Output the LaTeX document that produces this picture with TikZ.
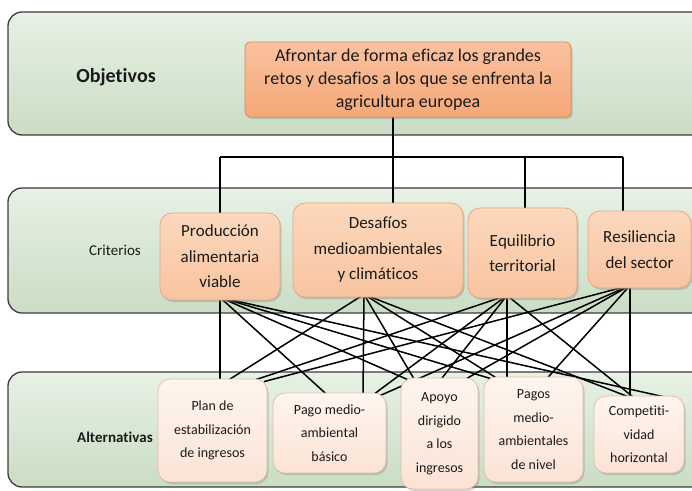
\documentclass[tikz,border=0pt]{standalone}
\usepackage{fontspec}
\setmainfont{Carlito}[RawFeature={-liga;-clig;-calt;-dlig;-kern}]
\usetikzlibrary{shadows}
\definecolor{bandA}{HTML}{E7F1E4}
\definecolor{bandB}{HTML}{CADDC5}
\definecolor{bandline}{HTML}{3C3C3C}
\definecolor{topA}{HTML}{FAC1A0}
\definecolor{topB}{HTML}{F5A877}
\definecolor{topline}{HTML}{D88A5A}
\definecolor{crA}{HTML}{FCD8BD}
\definecolor{crB}{HTML}{F8C4A0}
\definecolor{crline}{HTML}{E2A983}
\definecolor{alA}{HTML}{FEF5EF}
\definecolor{alB}{HTML}{FBE3D5}
\definecolor{alline}{HTML}{E3C0AA}
\definecolor{txt}{HTML}{1A1A1A}
\pgfdeclarelayer{bandlayer}
\pgfdeclarelayer{linelayer}
\pgfsetlayers{bandlayer,linelayer,main}
\begin{document}
\begin{tikzpicture}[x=1pt,y=-1pt,
  band/.style={draw=bandline, line width=1.3pt, rounded corners=14pt, top color=bandA, bottom color=bandB},
  boxbase/.style={rectangle, align=center, inner sep=0pt, text=txt,
    drop shadow={shadow xshift=1.5pt, shadow yshift=-2pt, opacity=0.35}},
  topbox/.style={boxbase, draw=topline, line width=0.8pt, rounded corners=5pt,
    top color=topA, bottom color=topB, font=\fontsize{18}{23}\selectfont},
  critbox/.style={boxbase, draw=crline, line width=0.8pt, rounded corners=12pt,
    top color=crA, bottom color=crB, font=\fontsize{17}{25.5}\selectfont},
  altbox/.style={boxbase, draw=alline, line width=0.8pt, rounded corners=12pt,
    top color=alA, bottom color=alB, font=\fontsize{14}{23.5}\selectfont},
  rowlabel/.style={text=txt, inner sep=0pt},
  conn/.style={draw=black, line width=1.5pt}]
\useasboundingbox (0,0) rectangle (692,490);

\begin{pgfonlayer}{bandlayer}
  \clip (0,0) rectangle (692,490);
  \draw[band] (8,12) rectangle (720,135);
  \draw[band] (8,188) rectangle (720,313);
  \draw[band] (8,372) rectangle (720,487);
\end{pgfonlayer}

% row labels
\node[rowlabel, font=\bfseries\fontsize{20}{24}\selectfont] (lobj) at (116,77) {Objetivos};
\node[rowlabel, font=\fontsize{15}{18}\selectfont] (lcrit) at (115,250) {Criterios};
\node[rowlabel, font=\bfseries\fontsize{15}{18}\selectfont] (lalt) at (115,437) {Alternativas};

% objective
\node[topbox, minimum width=326pt, minimum height=75pt] (top) at (408,79.5)
  {Afrontar de forma eficaz los grandes\\retos y desafios a los que se enfrenta la\\agricultura europea};

% criteria
\node[critbox, minimum width=120pt, minimum height=87pt] (prod) at (220,256.5)
  {Producción\\alimentaria\\viable};
\node[critbox, minimum width=170pt, minimum height=94pt] (des) at (378,250)
  {Desafíos\\medioambientales\\y climáticos};
\node[critbox, minimum width=109pt, minimum height=90pt] (equ) at (522.5,253)
  {Equilibrio\\territorial};
\node[critbox, minimum width=103pt, minimum height=77pt] (res) at (639.5,249.5)
  {Resiliencia\\del sector};

% alternatives
\node[altbox, minimum width=109pt, minimum height=103pt] (plan) at (212.5,430.5)
  {Plan de\\estabilización\\de ingresos};
\node[altbox, minimum width=113pt, minimum height=80pt] (pagom) at (329.5,433)
  {Pago medio-\\ambiental\\básico};
\node[altbox, minimum width=77pt, minimum height=111pt] (apoyo) at (439.5,433.5)
  {Apoyo\\dirigido\\a los\\ingresos};
\node[altbox, minimum width=99pt, minimum height=105pt] (pagos) at (533.5,429.5)
  {Pagos\\medio-\\ambientales\\de nivel};
\node[altbox, minimum width=90pt, minimum height=77pt] (comp) at (639,434.5)
  {Competiti-\\vidad\\horizontal};

% connection points
\coordinate (bus) at (0,157);
\coordinate (tD) at ([xshift=15pt]des.north);
\coordinate (tE) at ([xshift=2.5pt]equ.north);
\coordinate (tR) at ([xshift=-16.5pt]res.north);
\coordinate (cP) at ([yshift=3pt]prod.south);
\coordinate (cD) at ([xshift=-14pt,yshift=3pt]des.south);
\coordinate (cE) at ([xshift=-15.5pt,yshift=3pt]equ.south);
\coordinate (cR) at ([xshift=-9.5pt,yshift=3pt]res.south);

\begin{pgfonlayer}{linelayer}
  % tree from objective to criteria
  \draw[conn] (tD |- top.south) -- (tD |- bus);
  \draw[conn] (prod.north |- bus) -- (tR |- bus);
  \draw[conn] (prod.north |- bus) -- (prod.north);
  \draw[conn] (tD |- bus) -- (tD);
  \draw[conn] (tE |- bus) -- (tE);
  \draw[conn] (tR |- bus) -- (tR);
  % criteria to alternatives
  \foreach \c/\a/\s in {cP/plan/7.5, cD/plan/13.5, cE/plan/37.5, cR/plan/51.5,
                        cP/pagom/-1.5, cD/pagom/33.5, cE/pagom/42.5, cR/pagom/50.5,
                        cP/apoyo/-29.5, cD/apoyo/-24.5, cE/apoyo/0.5, cR/apoyo/23.5,
                        cP/pagos/-39.5, cD/pagos/-34.5, cE/pagos/-26.5, cR/pagos/12.5,
                        cP/comp/33, cD/comp/-6, cE/comp/-4, cR/comp/-9}
    \draw[conn] (\c) -- ([xshift=\s pt, yshift=-3pt]\a.north);
\end{pgfonlayer}
\end{tikzpicture}
\end{document}
